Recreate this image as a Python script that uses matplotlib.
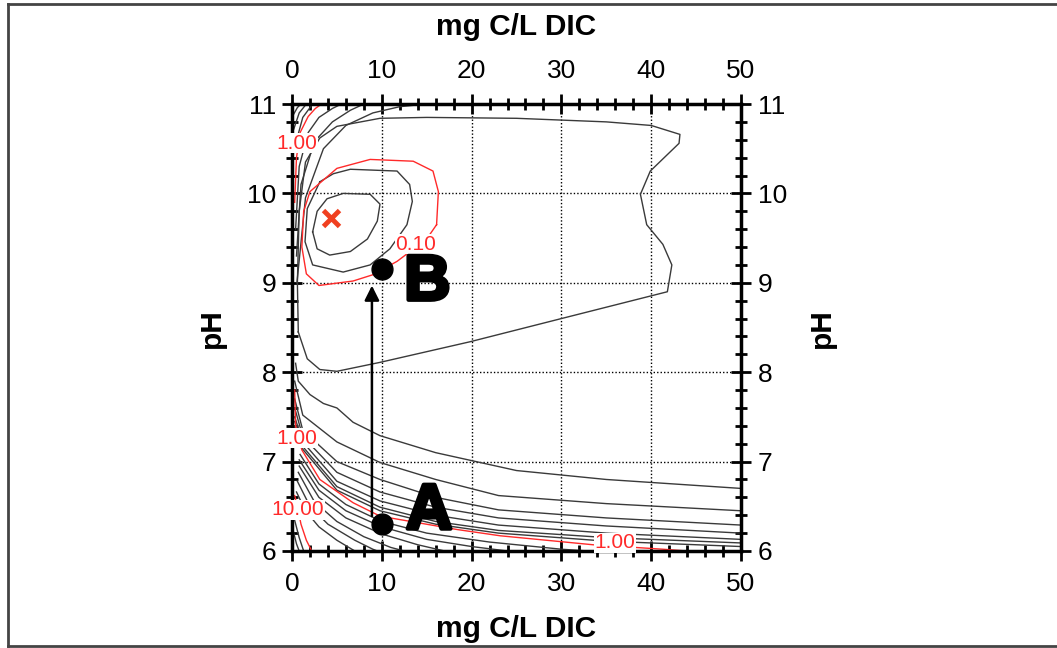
import matplotlib.pyplot as plt
import matplotlib.patheffects as pe
from matplotlib.ticker import MultipleLocator
from matplotlib.lines import Line2D

plt.rcParams['font.family'] = ['Liberation Sans Narrow', 'Liberation Sans', 'DejaVu Sans']

# contour traces, (DIC mg C/L, pH)
big_loop = [(0.7, 8.45), (1.7, 8.15), (3.1, 8.03), (5.0, 8.01), (9.8, 8.11), (19.8, 8.34),
            (30.0, 8.6), (41.8, 8.9), (42.3, 9.2), (41.3, 9.43), (39.5, 9.65), (38.8, 9.99),
            (39.9, 10.25), (43.1, 10.56), (43.2, 10.66), (40.0, 10.76), (35.0, 10.8),
            (25.0, 10.84), (15.0, 10.85), (9.8, 10.84), (5.0, 10.75), (3.1, 10.62),
            (1.5, 10.35), (0.8, 9.8), (0.6, 9.0), (0.7, 8.45)]

inner_loop = [(2.3, 9.57), (2.8, 9.8), (3.9, 9.94), (5.7, 10.0), (8.7, 9.99), (9.8, 9.88),
              (9.5, 9.69), (8.4, 9.49), (6.5, 9.35), (4.2, 9.31), (2.8, 9.38), (2.3, 9.57)]

mid_loop = [(3.1, 10.13), (4.6, 10.22), (6.5, 10.27), (11.7, 10.25), (13.1, 10.1), (13.4, 9.91),
            (12.8, 9.65), (10.9, 9.38), (8.7, 9.2), (5.7, 9.12), (2.3, 9.2), (1.45, 9.46),
            (1.7, 9.83), (3.1, 10.13)]

red_loop = [(16.1, 9.65), (15.0, 9.49), (11.7, 9.24), (9.0, 9.09), (6.8, 9.02), (3.0, 8.97),
            (1.6, 9.1), (1.1, 9.4), (1.3, 9.8), (2.0, 10.02), (5.0, 10.28), (8.7, 10.38),
            (13.5, 10.36), (15.7, 10.25), (16.3, 10.02), (16.1, 9.65)]

red_top = [(0.3, 9.9), (0.5, 10.4), (0.9, 10.68), (1.8, 10.86), (2.6, 10.95), (3.3, 11.0)]
corner_top = [
    [(0.15, 10.88), (0.6, 10.96), (1.0, 11.0)],
    [(0.2, 10.72), (0.8, 10.9), (1.6, 11.0)],
    [(0.25, 10.5), (1.2, 10.85), (2.3, 11.0)],
]
fan_top = [
    [(0.4, 9.6), (0.8, 10.3), (1.8, 10.68), (3.0, 10.85), (4.5, 10.95), (5.5, 11.0)],
    [(0.5, 9.3), (1.0, 10.1), (2.5, 10.58), (4.5, 10.8), (6.5, 10.93), (8.0, 11.0)],
    [(0.55, 9.0), (1.5, 9.95), (3.5, 10.5), (6.0, 10.76), (9.0, 10.9), (12.0, 10.97), (15.0, 11.0)],
]

fan_low = [
    [(0.4, 8.1), (0.7, 7.9), (2.0, 7.75), (3.5, 7.65), (5.0, 7.6), (6.8, 7.44), (9.8, 7.29),
     (16.0, 7.1), (25.0, 6.9), (35.0, 6.8), (50.0, 6.7)],
    [(0.3, 7.9), (1.2, 7.52), (5.0, 7.22), (9.8, 6.99), (16.0, 6.8), (23.0, 6.62), (35.0, 6.53),
     (50.0, 6.45)],
    [(0.3, 7.7), (1.2, 7.35), (5.0, 7.0), (9.8, 6.8), (16.0, 6.6), (23.0, 6.46), (35.0, 6.37),
     (50.0, 6.29)],
    [(0.3, 7.6), (1.2, 7.28), (5.0, 6.88), (9.8, 6.66), (16.0, 6.49), (23.0, 6.37), (35.0, 6.28),
     (50.0, 6.2)],
    [(0.3, 7.5), (1.2, 7.22), (5.0, 6.78), (9.8, 6.56), (16.0, 6.4), (23.0, 6.29), (35.0, 6.2),
     (50.0, 6.13)],
    [(0.3, 7.45), (1.1, 7.18), (5.0, 6.72), (9.8, 6.49), (16.0, 6.33), (23.0, 6.23), (35.0, 6.15),
     (50.0, 6.09)],
    [(0.3, 7.4), (1.1, 7.15), (5.0, 6.68), (9.8, 6.45), (16.0, 6.3), (23.0, 6.2), (35.0, 6.11),
     (50.0, 6.05)],
]

red_low = [(0.3, 7.8), (0.4, 7.4), (1.1, 7.13), (3.1, 6.8), (6.8, 6.54), (9.8, 6.39),
           (18.4, 6.24), (23.2, 6.17), (33.5, 6.07), (41.3, 6.02), (44.0, 6.0)]

fan_mid = [
    [(0.9, 7.08), (3.0, 6.75), (6.0, 6.52), (10.0, 6.33), (15.0, 6.2), (22.0, 6.1), (30.0, 6.02), (33.0, 6.0)],
    [(0.8, 7.02), (3.0, 6.68), (6.0, 6.45), (10.0, 6.27), (15.0, 6.13), (20.0, 6.05), (24.0, 6.0)],
    [(0.8, 6.95), (3.0, 6.6), (6.0, 6.37), (10.0, 6.19), (14.0, 6.07), (17.0, 6.0)],
    [(0.7, 6.88), (2.5, 6.55), (5.0, 6.33), (8.0, 6.16), (11.0, 6.04), (12.5, 6.0)],
    [(0.6, 6.78), (2.0, 6.5), (4.0, 6.3), (7.0, 6.12), (9.0, 6.02), (9.5, 6.0)],
    [(0.5, 6.66), (1.5, 6.45), (3.0, 6.27), (5.0, 6.12), (7.0, 6.0)],
]

red_ten = [(0.3, 6.62), (0.7, 6.45), (1.0, 6.3), (1.6, 6.12), (2.2, 6.0)]
corner_low = [
    [(0.2, 6.38), (0.8, 6.15), (1.3, 6.0)],
    [(0.15, 6.22), (0.5, 6.08), (0.8, 6.0)],
]

# contour value labels
label_text = ['1.00', '0.10', '1.00', '10.00', '1.00']
label_pos = [(0.56, 10.56), (13.8, 9.43), (0.56, 7.26), (0.67, 6.46), (36.0, 6.09)]

minimum = (4.3, 9.72)
point_a = (10.0, 6.30)
point_b = (10.0, 9.15)
arrow_x = 8.9

RED = '#ff2a2a'
GREY = '#3a3a3a'

fig = plt.figure(figsize=(10.57, 6.48), dpi=100)
ax = fig.add_axes([292 / 1057, 1 - 551 / 648, 449 / 1057, 447 / 648])
ax.set_xlim(0, 50)
ax.set_ylim(6, 11)


def trace(pts, color, lw=1.0):
    xs = [p[0] for p in pts]
    ys = [p[1] for p in pts]
    ax.plot(xs, ys, color=color, lw=lw, solid_joinstyle='round', zorder=2)


for line in [big_loop, inner_loop, mid_loop] + corner_top + fan_top + fan_low + fan_mid + corner_low:
    trace(line, GREY)
for line in [red_loop, red_top, red_low, red_ten]:
    trace(line, RED)

for txt, (x, y) in zip(label_text, label_pos):
    ax.text(x, y, txt, color=RED, fontsize=15, family=['Liberation Sans', 'DejaVu Sans'],
            ha='center', va='center', zorder=6, clip_on=False,
            bbox=dict(facecolor='white', edgecolor='none', pad=0.3))

ax.plot(*minimum, marker='x', ms=11, mew=3.5, color='#f04020', zorder=5)

# A -> B path
ax.annotate('', xy=(arrow_x, 9.0), xytext=(arrow_x, 6.36),
            arrowprops=dict(arrowstyle='-|>', color='black', lw=1.8, mutation_scale=22))
ax.plot(*point_a, 'o', ms=15, color='black', zorder=5)
ax.plot(*point_b, 'o', ms=15, color='black', zorder=5)
letter_kw = dict(fontsize=46, weight='bold', family=['Liberation Sans', 'DejaVu Sans'],
                 ha='left', va='center', zorder=6,
                 path_effects=[pe.withStroke(linewidth=3, foreground='black')])
ax.text(12.7, 6.44, 'A', **letter_kw)
ax.text(12.5, 9.0, 'B', **letter_kw)

ax.xaxis.set_major_locator(MultipleLocator(10))
ax.xaxis.set_minor_locator(MultipleLocator(2))
ax.yaxis.set_major_locator(MultipleLocator(1))
ax.yaxis.set_minor_locator(MultipleLocator(0.2))
ax.tick_params(which='both', direction='inout', top=True, right=True, width=2, color='black')
ax.tick_params(which='major', length=14, labelsize=19)
ax.tick_params(which='minor', length=8)
ax.tick_params(axis='x', which='major', pad=8)
ax.tick_params(axis='y', which='major', pad=4)
ax.grid(True, which='major', color='black', ls=(0, (1, 1.5)), lw=1)
for s in ax.spines.values():
    s.set_linewidth(2.5)
    s.set_zorder(4)

# labels on the opposite sides
top = ax.secondary_xaxis('top')
top.xaxis.set_major_locator(MultipleLocator(10))
top.tick_params(length=0, labelsize=19, pad=15)
right = ax.secondary_yaxis('right')
right.yaxis.set_major_locator(MultipleLocator(1))
right.tick_params(length=0, labelsize=19, pad=12)
for s in list(top.spines.values()) + list(right.spines.values()):
    s.set_visible(False)

title_font = dict(fontsize=21.5, weight='bold', family=['Liberation Sans', 'DejaVu Sans'])
fig.text(516 / 1057, 1 - 27 / 648, 'mg C/L DIC', ha='center', va='center', **title_font)
fig.text(516 / 1057, 1 - 629 / 648, 'mg C/L DIC', ha='center', va='center', **title_font)
fig.text(212 / 1057, 1 - 328 / 648, 'pH', ha='center', va='center', rotation=90, **title_font)
fig.text(822 / 1057, 1 - 328 / 648, 'pH', ha='center', va='center', rotation=90, **title_font)

# outer frame
frame_kw = dict(color='#444444', lw=2, transform=fig.transFigure)
fig.add_artist(Line2D([8 / 1057, 8 / 1057], [1 - 4 / 648, 1 - 646 / 648], **frame_kw))
fig.add_artist(Line2D([8 / 1057, 1.0], [1 - 4 / 648, 1 - 4 / 648], **frame_kw))
fig.add_artist(Line2D([8 / 1057, 1.0], [1 - 646 / 648, 1 - 646 / 648], **frame_kw))

fig.savefig('out.png', dpi=100)
